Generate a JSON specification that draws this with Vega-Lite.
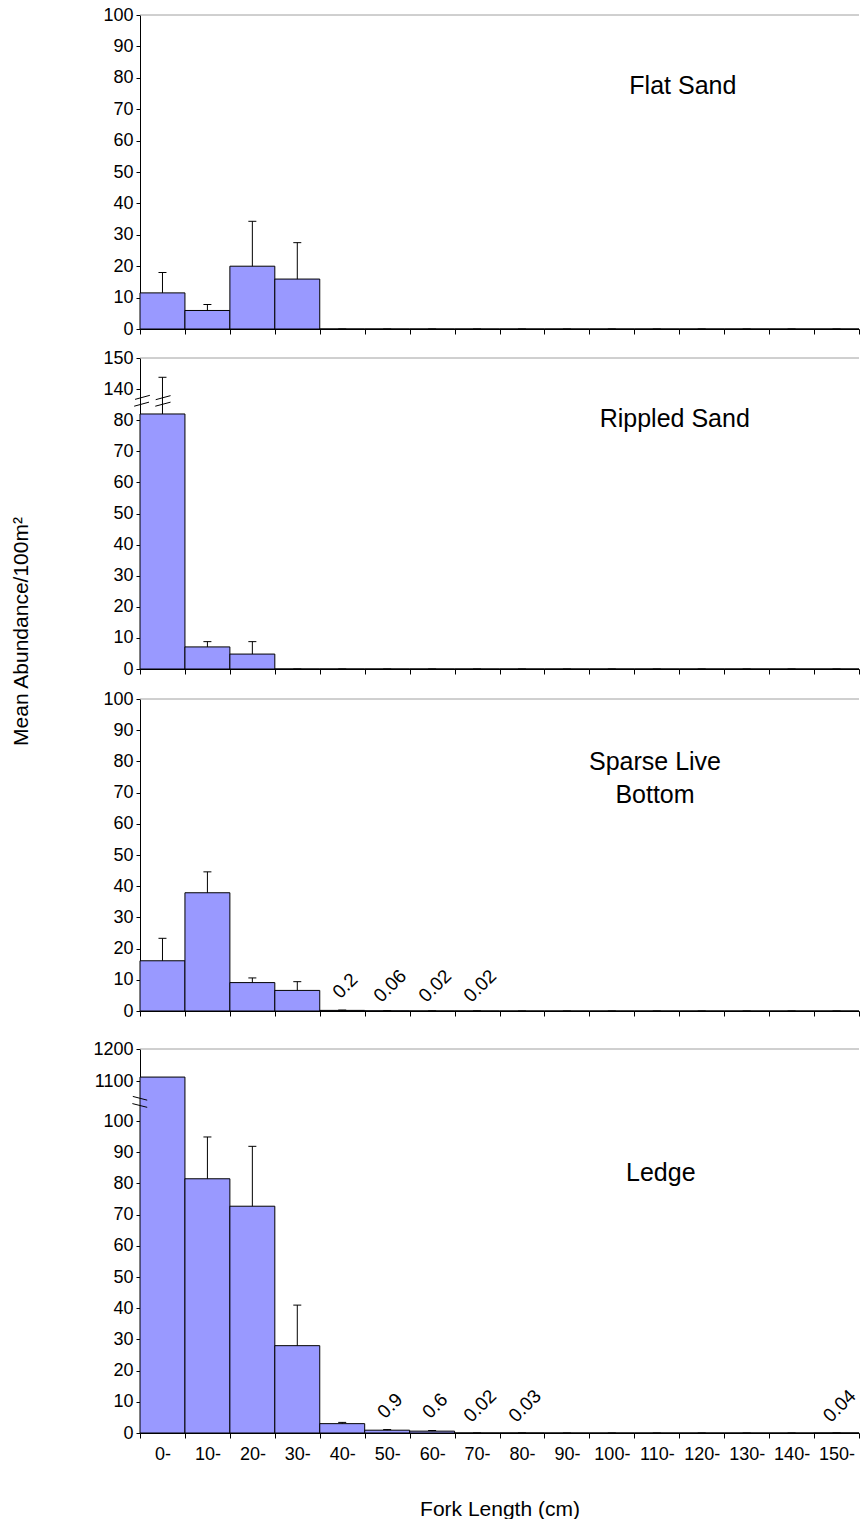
{
  "$schema": "https://vega.github.io/schema/vega-lite/v6.json",
  "padding": {"left": 10, "top": 6, "right": 0, "bottom": 0},
  "background": "#ffffff",
  "title": {"text": "Mean Abundance/100m²", "orient": "left", "anchor": "middle", "fontSize": 21, "fontWeight": "normal", "font": "Liberation Sans", "color": "#000000", "offset": 61, "dx": 131},
  "datasets": {
    "bars": [
      {"panel": "Flat Sand", "lo": 0, "hi": 10, "value": 11.5, "err": 18.0},
      {"panel": "Flat Sand", "lo": 10, "hi": 20, "value": 5.9, "err": 7.8},
      {"panel": "Flat Sand", "lo": 20, "hi": 30, "value": 20.0, "err": 34.3},
      {"panel": "Flat Sand", "lo": 30, "hi": 40, "value": 15.9, "err": 27.5},
      {"panel": "Flat Sand", "lo": 40, "hi": 50, "value": 0, "err": 0},
      {"panel": "Flat Sand", "lo": 50, "hi": 60, "value": 0, "err": 0},
      {"panel": "Flat Sand", "lo": 60, "hi": 70, "value": 0, "err": 0},
      {"panel": "Flat Sand", "lo": 70, "hi": 80, "value": 0, "err": 0},
      {"panel": "Flat Sand", "lo": 80, "hi": 90, "value": 0, "err": 0},
      {"panel": "Flat Sand", "lo": 90, "hi": 100, "value": 0, "err": 0},
      {"panel": "Flat Sand", "lo": 100, "hi": 110, "value": 0, "err": 0},
      {"panel": "Flat Sand", "lo": 110, "hi": 120, "value": 0, "err": 0},
      {"panel": "Flat Sand", "lo": 120, "hi": 130, "value": 0, "err": 0},
      {"panel": "Flat Sand", "lo": 130, "hi": 140, "value": 0, "err": 0},
      {"panel": "Flat Sand", "lo": 140, "hi": 150, "value": 0, "err": 0},
      {"panel": "Flat Sand", "lo": 150, "hi": 160, "value": 0, "err": 0},
      {"panel": "Rippled Sand", "lo": 0, "hi": 10, "value": 82.0, "err": 93.8},
      {"panel": "Rippled Sand", "lo": 10, "hi": 20, "value": 7.1, "err": 8.8},
      {"panel": "Rippled Sand", "lo": 20, "hi": 30, "value": 4.8, "err": 8.8},
      {"panel": "Rippled Sand", "lo": 30, "hi": 40, "value": 0, "err": 0},
      {"panel": "Rippled Sand", "lo": 40, "hi": 50, "value": 0, "err": 0},
      {"panel": "Rippled Sand", "lo": 50, "hi": 60, "value": 0, "err": 0},
      {"panel": "Rippled Sand", "lo": 60, "hi": 70, "value": 0, "err": 0},
      {"panel": "Rippled Sand", "lo": 70, "hi": 80, "value": 0, "err": 0},
      {"panel": "Rippled Sand", "lo": 80, "hi": 90, "value": 0, "err": 0},
      {"panel": "Rippled Sand", "lo": 90, "hi": 100, "value": 0, "err": 0},
      {"panel": "Rippled Sand", "lo": 100, "hi": 110, "value": 0, "err": 0},
      {"panel": "Rippled Sand", "lo": 110, "hi": 120, "value": 0, "err": 0},
      {"panel": "Rippled Sand", "lo": 120, "hi": 130, "value": 0, "err": 0},
      {"panel": "Rippled Sand", "lo": 130, "hi": 140, "value": 0, "err": 0},
      {"panel": "Rippled Sand", "lo": 140, "hi": 150, "value": 0, "err": 0},
      {"panel": "Rippled Sand", "lo": 150, "hi": 160, "value": 0, "err": 0},
      {"panel": "Sparse Live Bottom", "lo": 0, "hi": 10, "value": 16.1, "err": 23.3},
      {"panel": "Sparse Live Bottom", "lo": 10, "hi": 20, "value": 37.9, "err": 44.6},
      {"panel": "Sparse Live Bottom", "lo": 20, "hi": 30, "value": 9.1, "err": 10.6},
      {"panel": "Sparse Live Bottom", "lo": 30, "hi": 40, "value": 6.6, "err": 9.4},
      {"panel": "Sparse Live Bottom", "lo": 40, "hi": 50, "value": 0.2, "err": 0.3, "note": "0.2"},
      {"panel": "Sparse Live Bottom", "lo": 50, "hi": 60, "value": 0.06, "err": 0.1, "note": "0.06"},
      {"panel": "Sparse Live Bottom", "lo": 60, "hi": 70, "value": 0.02, "err": 0.05, "note": "0.02"},
      {"panel": "Sparse Live Bottom", "lo": 70, "hi": 80, "value": 0.02, "err": 0.05, "note": "0.02"},
      {"panel": "Sparse Live Bottom", "lo": 80, "hi": 90, "value": 0, "err": 0},
      {"panel": "Sparse Live Bottom", "lo": 90, "hi": 100, "value": 0, "err": 0},
      {"panel": "Sparse Live Bottom", "lo": 100, "hi": 110, "value": 0, "err": 0},
      {"panel": "Sparse Live Bottom", "lo": 110, "hi": 120, "value": 0, "err": 0},
      {"panel": "Sparse Live Bottom", "lo": 120, "hi": 130, "value": 0, "err": 0},
      {"panel": "Sparse Live Bottom", "lo": 130, "hi": 140, "value": 0, "err": 0},
      {"panel": "Sparse Live Bottom", "lo": 140, "hi": 150, "value": 0, "err": 0},
      {"panel": "Sparse Live Bottom", "lo": 150, "hi": 160, "value": 0, "err": 0},
      {"panel": "Ledge", "lo": 0, "hi": 10, "value": 114.1},
      {"panel": "Ledge", "lo": 10, "hi": 20, "value": 81.5, "err": 94.9},
      {"panel": "Ledge", "lo": 20, "hi": 30, "value": 72.7, "err": 91.9},
      {"panel": "Ledge", "lo": 30, "hi": 40, "value": 28.0, "err": 41.0},
      {"panel": "Ledge", "lo": 40, "hi": 50, "value": 3.0, "err": 3.4},
      {"panel": "Ledge", "lo": 50, "hi": 60, "value": 0.9, "err": 1.1, "note": "0.9"},
      {"panel": "Ledge", "lo": 60, "hi": 70, "value": 0.6, "err": 0.8, "note": "0.6"},
      {"panel": "Ledge", "lo": 70, "hi": 80, "value": 0.02, "err": 0.02, "note": "0.02"},
      {"panel": "Ledge", "lo": 80, "hi": 90, "value": 0.03, "err": 0.03, "note": "0.03"},
      {"panel": "Ledge", "lo": 90, "hi": 100, "value": 0, "err": 0},
      {"panel": "Ledge", "lo": 100, "hi": 110, "value": 0, "err": 0},
      {"panel": "Ledge", "lo": 110, "hi": 120, "value": 0, "err": 0},
      {"panel": "Ledge", "lo": 120, "hi": 130, "value": 0, "err": 0},
      {"panel": "Ledge", "lo": 130, "hi": 140, "value": 0, "err": 0},
      {"panel": "Ledge", "lo": 140, "hi": 150, "value": 0, "err": 0},
      {"panel": "Ledge", "lo": 150, "hi": 160, "value": 0.04, "err": 0.04, "note": "0.04"}
    ],
    "breaks": [
      {"panel": "Rippled Sand", "x1": -1.1, "y1": 86.7, "x2": 2.2, "y2": 88.0},
      {"panel": "Rippled Sand", "x1": -1.3, "y1": 84.5, "x2": 2.0, "y2": 85.8},
      {"panel": "Rippled Sand", "x1": 3.5, "y1": 86.6, "x2": 6.8, "y2": 87.9},
      {"panel": "Rippled Sand", "x1": 3.4, "y1": 84.5, "x2": 6.8, "y2": 85.8},
      {"panel": "Ledge", "x1": -1.6, "y1": 107.9, "x2": 1.6, "y2": 106.7},
      {"panel": "Ledge", "x1": -1.7, "y1": 105.6, "x2": 1.6, "y2": 104.4}
    ]
  },
  "spacing": 20,
  "vconcat": [
    {
      "spacing": 12,
      "vconcat": [
        {
          "spacing": 11,
          "vconcat": [
            {
              "width": 719,
              "height": 314,
              "data": {"name": "bars"},
              "transform": [
                {"filter": "datum.panel === 'Flat Sand'"},
                {"calculate": "(datum.lo + datum.hi) / 2", "as": "mid"}
              ],
              "layer": [
                {
                  "mark": {"type": "bar", "fill": "#9999ff", "stroke": "#000000", "strokeWidth": 1},
                  "encoding": {
                    "x": {"field": "lo", "type": "quantitative", "title": null,
                      "scale": {"domain": [0, 160], "nice": false, "zero": false},
                      "axis": {"values": [0, 10, 20, 30, 40, 50, 60, 70, 80, 90, 100, 110, 120, 130, 140, 150, 160], "tickCount": 40, "labels": false, "tickSize": 5}},
                    "x2": {"field": "hi"},
                    "y": {"field": "value", "type": "quantitative", "title": null,
                      "scale": {"domain": [0, 100], "nice": false},
                      "axis": {"values": [0, 10, 20, 30, 40, 50, 60, 70, 80, 90, 100], "tickCount": 40, "tickSize": 4, "labelPadding": 3}},
                    "y2": {"datum": 0}
                  }
                },
                {
                  "data": {"values": [{}]},
                  "mark": {"type": "rule", "color": "#a0a0a0", "strokeWidth": 1},
                  "encoding": {"y": {"datum": 100, "type": "quantitative", "title": null}}
                },
                {
                  "transform": [{"filter": "isValid(datum.err)"}],
                  "mark": {"type": "rule", "color": "#000000", "strokeWidth": 1},
                  "encoding": {
                    "x": {"field": "mid", "type": "quantitative", "title": null},
                    "y": {"field": "value", "type": "quantitative", "title": null},
                    "y2": {"field": "err"}
                  }
                },
                {
                  "transform": [{"filter": "isValid(datum.err)"}],
                  "mark": {"type": "tick", "orient": "horizontal", "size": 8, "thickness": 1, "color": "#000000", "opacity": 1},
                  "encoding": {
                    "x": {"field": "mid", "type": "quantitative", "title": null},
                    "y": {"field": "err", "type": "quantitative", "title": null}
                  }
                },
                {
                  "data": {"values": [{}]},
                  "mark": {"type": "text", "fontSize": 25, "align": "center", "baseline": "middle", "color": "#000000"},
                  "encoding": {
                    "x": {"datum": 120.8, "type": "quantitative", "title": null},
                    "y": {"datum": 77.4, "type": "quantitative", "title": null},
                    "text": {"value": "Flat Sand"}
                  }
                }
              ]
            },
            {
              "width": 719,
              "height": 311,
              "data": {"name": "bars"},
              "transform": [
                {"filter": "datum.panel === 'Rippled Sand'"},
                {"calculate": "(datum.lo + datum.hi) / 2", "as": "mid"}
              ],
              "layer": [
                {
                  "mark": {"type": "bar", "fill": "#9999ff", "stroke": "#000000", "strokeWidth": 1},
                  "encoding": {
                    "x": {"field": "lo", "type": "quantitative", "title": null,
                      "scale": {"domain": [0, 160], "nice": false, "zero": false},
                      "axis": {"values": [0, 10, 20, 30, 40, 50, 60, 70, 80, 90, 100, 110, 120, 130, 140, 150, 160], "tickCount": 40, "labels": false, "tickSize": 5}},
                    "x2": {"field": "hi"},
                    "y": {"field": "value", "type": "quantitative", "title": null,
                      "scale": {"domain": [0, 100], "nice": false},
                      "axis": {"values": [0, 10, 20, 30, 40, 50, 60, 70, 80, 90, 100], "tickCount": 40, "tickSize": 4, "labelPadding": 3,
                        "labelExpr": "datum.value == 100 ? '150' : datum.value == 90 ? '140' : datum.label"}},
                    "y2": {"datum": 0}
                  }
                },
                {
                  "data": {"values": [{}]},
                  "mark": {"type": "rule", "color": "#a0a0a0", "strokeWidth": 1},
                  "encoding": {"y": {"datum": 100, "type": "quantitative", "title": null}}
                },
                {
                  "transform": [{"filter": "isValid(datum.err)"}],
                  "mark": {"type": "rule", "color": "#000000", "strokeWidth": 1},
                  "encoding": {
                    "x": {"field": "mid", "type": "quantitative", "title": null},
                    "y": {"field": "value", "type": "quantitative", "title": null},
                    "y2": {"field": "err"}
                  }
                },
                {
                  "transform": [{"filter": "isValid(datum.err)"}],
                  "mark": {"type": "tick", "orient": "horizontal", "size": 8, "thickness": 1, "color": "#000000", "opacity": 1},
                  "encoding": {
                    "x": {"field": "mid", "type": "quantitative", "title": null},
                    "y": {"field": "err", "type": "quantitative", "title": null}
                  }
                },
                {
                  "data": {"name": "breaks"},
                  "transform": [{"filter": "datum.panel === 'Rippled Sand'"}],
                  "mark": {"type": "rule", "color": "#000000", "strokeWidth": 1},
                  "encoding": {
                    "x": {"field": "x1", "type": "quantitative", "title": null},
                    "x2": {"field": "x2"},
                    "y": {"field": "y1", "type": "quantitative", "title": null},
                    "y2": {"field": "y2"}
                  }
                },
                {
                  "data": {"values": [{}]},
                  "mark": {"type": "text", "fontSize": 25, "align": "center", "baseline": "middle", "color": "#000000"},
                  "encoding": {
                    "x": {"datum": 119, "type": "quantitative", "title": null},
                    "y": {"datum": 80.5, "type": "quantitative", "title": null},
                    "text": {"value": "Rippled Sand"}
                  }
                }
              ]
            }
          ]
        },
        {
          "width": 719,
          "height": 312,
          "data": {"name": "bars"},
          "transform": [
            {"filter": "datum.panel === 'Sparse Live Bottom'"},
            {"calculate": "(datum.lo + datum.hi) / 2", "as": "mid"}
          ],
          "layer": [
            {
              "mark": {"type": "bar", "fill": "#9999ff", "stroke": "#000000", "strokeWidth": 1},
              "encoding": {
                "x": {"field": "lo", "type": "quantitative", "title": null,
                  "scale": {"domain": [0, 160], "nice": false, "zero": false},
                  "axis": {"values": [0, 10, 20, 30, 40, 50, 60, 70, 80, 90, 100, 110, 120, 130, 140, 150, 160], "tickCount": 40, "labels": false, "tickSize": 5}},
                "x2": {"field": "hi"},
                "y": {"field": "value", "type": "quantitative", "title": null,
                  "scale": {"domain": [0, 100], "nice": false},
                  "axis": {"values": [0, 10, 20, 30, 40, 50, 60, 70, 80, 90, 100], "tickCount": 40, "tickSize": 4, "labelPadding": 3}},
                "y2": {"datum": 0}
              }
            },
            {
              "data": {"values": [{}]},
              "mark": {"type": "rule", "color": "#a0a0a0", "strokeWidth": 1},
              "encoding": {"y": {"datum": 100, "type": "quantitative", "title": null}}
            },
            {
              "transform": [{"filter": "isValid(datum.err)"}],
              "mark": {"type": "rule", "color": "#000000", "strokeWidth": 1},
              "encoding": {
                "x": {"field": "mid", "type": "quantitative", "title": null},
                "y": {"field": "value", "type": "quantitative", "title": null},
                "y2": {"field": "err"}
              }
            },
            {
              "transform": [{"filter": "isValid(datum.err)"}],
              "mark": {"type": "tick", "orient": "horizontal", "size": 8, "thickness": 1, "color": "#000000", "opacity": 1},
              "encoding": {
                "x": {"field": "mid", "type": "quantitative", "title": null},
                "y": {"field": "err", "type": "quantitative", "title": null}
              }
            },
            {
              "transform": [{"filter": "isValid(datum.note)"}],
              "mark": {"type": "text", "fontSize": 19, "angle": 315, "align": "center", "baseline": "middle", "xOffset": 3, "yOffset": -25, "color": "#000000"},
              "encoding": {
                "x": {"field": "mid", "type": "quantitative", "title": null},
                "y": {"datum": 0, "type": "quantitative", "title": null},
                "text": {"field": "note"}
              }
            },
            {
              "data": {"values": [{}]},
              "mark": {"type": "text", "fontSize": 25, "align": "center", "baseline": "middle", "lineHeight": 33, "color": "#000000"},
              "encoding": {
                "x": {"datum": 114.6, "type": "quantitative", "title": null},
                "y": {"datum": 79.8, "type": "quantitative", "title": null},
                "text": {"value": ["Sparse Live", "Bottom"]}
              }
            }
          ]
        }
      ]
    },
    {
      "width": 719,
      "height": 384,
      "data": {"name": "bars"},
      "transform": [
        {"filter": "datum.panel === 'Ledge'"},
        {"calculate": "(datum.lo + datum.hi) / 2", "as": "mid"}
      ],
      "layer": [
        {
          "mark": {"type": "bar", "fill": "#9999ff", "stroke": "#000000", "strokeWidth": 1},
          "encoding": {
            "x": {"field": "lo", "type": "quantitative",
              "scale": {"domain": [0, 160], "nice": false, "zero": false},
              "axis": {"values": [0, 10, 20, 30, 40, 50, 60, 70, 80, 90, 100, 110, 120, 130, 140, 150, 160], "tickCount": 40, "tickSize": 5,
                "labelExpr": "datum.value < 160 ? datum.value + '-' : ''", "labelOffset": 22.5, "labelPadding": 7,
                "labelFlush": false, "labelOverlap": false, "labelBound": false,
                "title": "Fork Length (cm)", "titleFontSize": 21, "titlePadding": 35}},
            "x2": {"field": "hi"},
            "y": {"field": "value", "type": "quantitative", "title": null,
              "scale": {"domain": [0, 123.1], "nice": false},
              "axis": {"values": [0, 10, 20, 30, 40, 50, 60, 70, 80, 90, 100, 112.7, 123.1], "tickCount": 40, "tickSize": 4, "labelPadding": 3,
                "labelExpr": "datum.value > 120 ? '1200' : datum.value > 110 ? '1100' : datum.label"}},
            "y2": {"datum": 0}
          }
        },
        {
          "data": {"values": [{}]},
          "mark": {"type": "rule", "color": "#a0a0a0", "strokeWidth": 1},
          "encoding": {"y": {"datum": 123.1, "type": "quantitative", "title": null}}
        },
        {
          "transform": [{"filter": "isValid(datum.err)"}],
          "mark": {"type": "rule", "color": "#000000", "strokeWidth": 1},
          "encoding": {
            "x": {"field": "mid", "type": "quantitative"},
            "y": {"field": "value", "type": "quantitative", "title": null},
            "y2": {"field": "err"}
          }
        },
        {
          "transform": [{"filter": "isValid(datum.err)"}],
          "mark": {"type": "tick", "orient": "horizontal", "size": 8, "thickness": 1, "color": "#000000", "opacity": 1},
          "encoding": {
            "x": {"field": "mid", "type": "quantitative"},
            "y": {"field": "err", "type": "quantitative", "title": null}
          }
        },
        {
          "data": {"name": "breaks"},
          "transform": [{"filter": "datum.panel === 'Ledge'"}],
          "mark": {"type": "rule", "color": "#000000", "strokeWidth": 1},
          "encoding": {
            "x": {"field": "x1", "type": "quantitative"},
            "x2": {"field": "x2"},
            "y": {"field": "y1", "type": "quantitative", "title": null},
            "y2": {"field": "y2"}
          }
        },
        {
          "transform": [{"filter": "isValid(datum.note)"}],
          "mark": {"type": "text", "fontSize": 19, "angle": 315, "align": "center", "baseline": "middle", "xOffset": 3, "yOffset": -27, "color": "#000000"},
          "encoding": {
            "x": {"field": "mid", "type": "quantitative"},
            "y": {"datum": 0, "type": "quantitative", "title": null},
            "text": {"field": "note"}
          }
        },
        {
          "data": {"values": [{}]},
          "mark": {"type": "text", "fontSize": 25, "align": "center", "baseline": "middle", "color": "#000000"},
          "encoding": {
            "x": {"datum": 115.9, "type": "quantitative"},
            "y": {"datum": 83.2, "type": "quantitative", "title": null},
            "text": {"value": "Ledge"}
          }
        }
      ]
    }
  ],
  "config": {
    "font": "Liberation Sans",
    "view": {"stroke": null},
    "axis": {
      "labelFont": "Liberation Sans", "titleFont": "Liberation Sans",
      "labelColor": "#000000", "titleColor": "#000000",
      "domainColor": "#000000", "tickColor": "#000000",
      "domainWidth": 1, "tickWidth": 1,
      "grid": false, "labelFontSize": 18, "titleFontWeight": "normal",
      "labelOverlap": false
    }
  }
}
